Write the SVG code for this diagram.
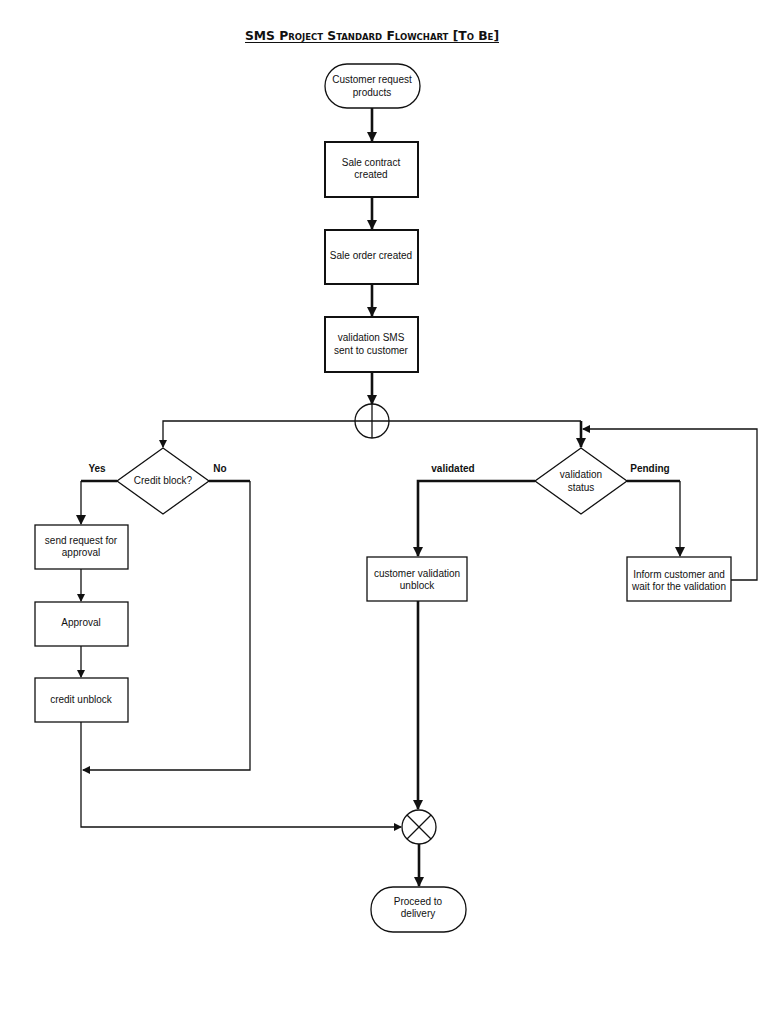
<svg xmlns="http://www.w3.org/2000/svg" width="768" height="1024" viewBox="0 0 768 1024">
<style>
.t{font-family:"Liberation Sans",Arial,sans-serif;font-size:10px;fill:#111;text-anchor:middle}
.b{font-family:"Liberation Sans",Arial,sans-serif;font-size:10px;font-weight:bold;fill:#111;text-anchor:middle}
.box{fill:#fff;stroke:#111;stroke-width:1.3}
.bx2{fill:#fff;stroke:#111;stroke-width:2}
.thin{fill:none;stroke:#111;stroke-width:1.3}
.thick{fill:none;stroke:#111;stroke-width:2.6}
</style>
<defs>
<marker id="ah" markerWidth="8" markerHeight="8" refX="7" refY="4" orient="auto" markerUnits="userSpaceOnUse"><path d="M0,0 L8,4 L0,8 z" fill="#111"/></marker>
<marker id="ah2" markerWidth="10" markerHeight="10" refX="9" refY="5" orient="auto" markerUnits="userSpaceOnUse"><path d="M0,0 L10,5 L0,10 z" fill="#111"/></marker>
</defs>
<rect width="768" height="1024" fill="#fff"/>
<g id="title">
<text x="372" y="40" font-family="DejaVu Sans Condensed,DejaVu Sans,sans-serif" font-size="13" font-weight="bold" font-variant="small-caps" text-anchor="middle" textLength="254" lengthAdjust="spacingAndGlyphs" fill="#111">SMS Project  Standard Flowchart [To Be]</text>
<line x1="245" y1="42.5" x2="499" y2="42.5" stroke="#111" stroke-width="1.2"/>
</g>
<g id="connectors">
<line class="thick" x1="372" y1="108" x2="372" y2="141" marker-end="url(#ah2)"/>
<line class="thick" x1="372" y1="197" x2="372" y2="229" marker-end="url(#ah2)"/>
<line class="thick" x1="372" y1="284" x2="372" y2="316" marker-end="url(#ah2)"/>
<line class="thick" x1="372" y1="372" x2="372" y2="404" marker-end="url(#ah2)"/>
<polyline class="thin" points="355,421 163,421 163,447" marker-end="url(#ah)"/>
<polyline class="thin" points="389,421 581,421"/>
<line class="thick" x1="581" y1="421" x2="581" y2="447" marker-end="url(#ah2)"/>
<polyline class="thick" points="117,481 81,481"/>
<line class="thin" x1="81" y1="481" x2="81" y2="524" marker-end="url(#ah2)"/>
<polyline class="thick" points="209,481 250,481"/>
<polyline class="thin" points="250,481 250,770 83,770" marker-end="url(#ah)"/>
<line class="thin" x1="81" y1="569" x2="81" y2="601" marker-end="url(#ah)"/>
<line class="thin" x1="81" y1="646" x2="81" y2="677" marker-end="url(#ah)"/>
<polyline class="thin" points="81,722 81,827 401,827" marker-end="url(#ah)"/>
<polyline class="thick" points="535,481 418,481 418,556" marker-end="url(#ah2)"/>
<line class="thick" x1="418" y1="601" x2="418" y2="809" marker-end="url(#ah2)"/>
<polyline class="thick" points="627,481 680,481"/>
<line class="thin" x1="680" y1="481" x2="680" y2="556" marker-end="url(#ah2)"/>
<polyline class="thin" points="731,580 757,580 757,429 583,429" marker-end="url(#ah)"/>
<line class="thick" x1="419" y1="844" x2="419" y2="886" marker-end="url(#ah2)"/>
</g>
<g id="n_start">
<rect class="box" x="325" y="64" width="95" height="44" rx="22"/>
<text class="t" x="372" y="83">Customer request</text>
<text class="t" x="372" y="96">products</text>
</g>
<g id="n_contract">
<rect class="bx2" x="325" y="142" width="93" height="55"/>
<text class="t" x="371" y="166">Sale contract</text>
<text class="t" x="371" y="178">created</text>
</g>
<g id="n_order">
<rect class="bx2" x="325" y="230" width="93" height="54"/>
<text class="t" x="371" y="259">Sale order created</text>
</g>
<g id="n_sms">
<rect class="bx2" x="325" y="317" width="93" height="55"/>
<text class="t" x="371" y="341">validation SMS</text>
<text class="t" x="371" y="354">sent to customer</text>
</g>
<g id="n_fork">
<circle class="box" cx="372" cy="421" r="17"/>
<line class="thin" x1="355" y1="421" x2="389" y2="421"/>
<line class="thin" x1="372" y1="404" x2="372" y2="438"/>
</g>
<g id="n_credit">
<polygon class="box" points="163,448 209,481 163,514 117,481"/>
<text class="t" x="163" y="484">Credit block?</text>
<text class="b" x="97" y="472">Yes</text>
<text class="b" x="220" y="472">No</text>
</g>
<g id="n_validation">
<polygon class="box" points="581,448 627,481 581,514 535,481"/>
<text class="t" x="581" y="478">validation</text>
<text class="t" x="581" y="491">status</text>
<text class="b" x="453" y="472">validated</text>
<text class="b" x="650" y="472">Pending</text>
</g>
<g id="n_sendreq">
<rect class="box" x="35" y="525" width="93" height="44"/>
<text class="t" x="81" y="544">send request for</text>
<text class="t" x="81" y="556">approval</text>
</g>
<g id="n_approval">
<rect class="box" x="35" y="602" width="93" height="44"/>
<text class="t" x="81" y="626">Approval</text>
</g>
<g id="n_unblock">
<rect class="box" x="35" y="678" width="93" height="44"/>
<text class="t" x="81" y="703">credit unblock</text>
</g>
<g id="n_custunblock">
<rect class="box" x="367" y="557" width="100" height="44"/>
<text class="t" x="417" y="577">customer validation</text>
<text class="t" x="417" y="589">unblock</text>
</g>
<g id="n_inform">
<rect class="box" x="627" y="557" width="104" height="44"/>
<text class="t" x="679" y="578">Inform customer and</text>
<text class="t" x="679" y="590">wait for the validation</text>
</g>
<g id="n_join">
<circle class="box" cx="419" cy="827" r="17"/>
<line class="thin" x1="407" y1="815" x2="431" y2="839"/>
<line class="thin" x1="431" y1="815" x2="407" y2="839"/>
</g>
<g id="n_end">
<rect class="box" x="371" y="887" width="95" height="45" rx="22"/>
<text class="t" x="418" y="905">Proceed to</text>
<text class="t" x="418" y="917">delivery</text>
</g>
</svg>
